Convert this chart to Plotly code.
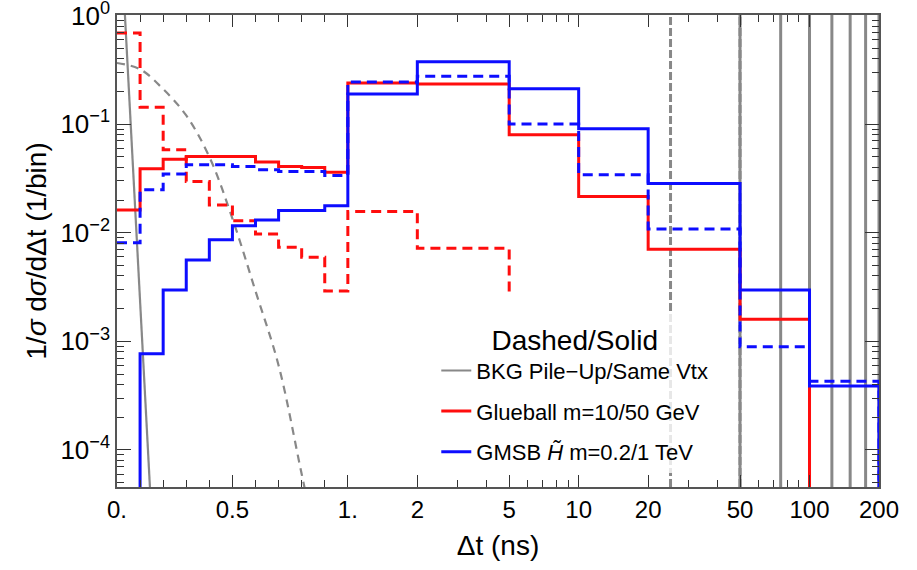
import numpy as np
import plotly.graph_objects as go

# ---------------- data ----------------
# histogram bin edges in ns
edges = [0.0, 0.1, 0.2, 0.3, 0.4, 0.5, 0.6, 0.7, 0.8, 0.9, 1.0, 2, 5, 10, 20, 50, 100, 200]

# Glueball m=10 GeV (dashed red) – bins up to 5 ns, then the line stops
glue10_edges = [0.0, 0.1, 0.2, 0.3, 0.4, 0.5, 0.6, 0.7, 0.8, 0.9, 1.0, 2, 5]
glue10_vals = [0.69, 0.143, 0.058, 0.0296, 0.018, 0.0129, 0.00975, 0.00735, 0.00594, 0.0029, 0.0157, 0.0072]
glue10_end = 0.0028

# Glueball m=50 GeV (solid red)
glue50_vals = [0.0162, 0.0387, 0.0475, 0.0503, 0.0503, 0.0503, 0.0447, 0.0407, 0.0398, 0.0361,
               0.239, 0.234, 0.0797, 0.0215, 0.00705, 0.0016, 0.0]
glue50_end = 0.0

# GMSB Higgsino m=0.2 TeV (dashed blue)
gmsb02_vals = [0.0081, 0.0248, 0.0348, 0.0422, 0.0422, 0.0407, 0.0379, 0.0366, 0.0366, 0.0336,
               0.244, 0.275, 0.100, 0.0341, 0.0108, 0.00089, 0.00043]
gmsb02_end = 0.0

# GMSB Higgsino m=1 TeV (solid blue)
gmsb1_vals = [0.0, 0.00077, 0.00297, 0.00561, 0.0086, 0.0116, 0.0131, 0.016, 0.016, 0.0177,
              0.189, 0.375, 0.211, 0.0905, 0.0284, 0.00297, 0.000387]
gmsb1_end = 0.0

# Background, same vertex (solid gray)
bkg_same_t = [0.03, 0.06, 0.09, 0.12, 0.15]
bkg_same_y = [1.5, 0.095, 0.006, 0.00037, 0.000023]

# Background, pile-up (dashed gray)
bkg_pu_t = [0.0, 0.1, 0.2, 0.3, 0.4, 0.5, 0.6, 0.7, 0.8, 0.9]
bkg_pu_y = [0.365, 0.32, 0.21, 0.12, 0.05, 0.0135, 0.0029, 0.0006, 0.00006, 0.000006]

# bunch-crossing spikes (ns)
spikes_dashed = [25, 50]
spikes_solid = [50, 75, 100, 125, 150, 175, 200]

# axis ticks
xtick_vals = [0, 0.5, 1, 2, 5, 10, 20, 50, 100, 200]
xtick_text = ["0.", "0.5", "1.", "2", "5", "10", "20", "50", "100", "200"]
xminor_vals = [0.1, 0.2, 0.3, 0.4, 0.6, 0.7, 0.8, 0.9, 3, 4, 6, 7, 8, 9, 30, 40, 60, 70, 80, 90]
ytick_vals = [1, 0.1, 0.01, 0.001, 0.0001]
ytick_text = ["10<sup>0</sup>", "10<sup>−1</sup>", "10<sup>−2</sup>", "10<sup>−3</sup>", "10<sup>−4</sup>"]
ymin = 4.56e-5
ymax = 1.01

# ---------------- axis transform: linear 0..1 ns, log above 1 ns ----------------
def u(t):
    t = np.asarray(t, dtype=float)
    return np.where(t <= 1, t, 1 + np.log10(np.maximum(t, 1e-12)))

TINY = 1e-9
def floor0(v):
    v = np.asarray(v, dtype=float)
    return np.where(v > 0, v, TINY)

GRAY = "#888888"
RED = "#ff0d0d"
BLUE = "#0d0dff"
DASH = "10px,6px"
W = 3

fig = go.Figure()

# gray background curves
fig.add_trace(go.Scatter(x=u(bkg_pu_t), y=bkg_pu_y, mode="lines", line=dict(color=GRAY, width=2.2, dash="8px,6px", shape="spline"),
                         showlegend=False, hoverinfo="skip"))
fig.add_trace(go.Scatter(x=u(bkg_same_t), y=bkg_same_y, mode="lines", line=dict(color=GRAY, width=2.2),
                         name="BKG Pile−Up/Same Vtx", legendrank=1, legendgroup="a"))

sx, sy = [], []
for s in spikes_dashed:
    sx += [float(u(s)), float(u(s)), None]
    sy += [TINY, 10, None]
fig.add_trace(go.Scatter(x=sx, y=sy, mode="lines", line=dict(color=GRAY, width=3, dash="8px,3px"), showlegend=False, hoverinfo="skip"))
sx, sy = [], []
for s in spikes_solid:
    sx += [float(u(s)), float(u(s)), None]
    sy += [TINY, 10, None]
fig.add_trace(go.Scatter(x=sx, y=sy, mode="lines", line=dict(color=GRAY, width=3), showlegend=False, hoverinfo="skip"))

def step(edges_, vals, end):
    x = u(edges_)
    y = floor0(list(vals) + [end])
    return x, y

x, y = step(glue10_edges, glue10_vals, glue10_end)
fig.add_trace(go.Scatter(x=x, y=y, mode="lines", line=dict(color=RED, width=W, dash=DASH, shape="hv"), showlegend=False))
x, y = step(edges, glue50_vals, glue50_end)
fig.add_trace(go.Scatter(x=x, y=y, mode="lines", line=dict(color=RED, width=W, shape="hv"),
                         name="Glueball m=10/50 GeV", legendrank=2, legendgroup="b"))
x, y = step(edges, gmsb02_vals, gmsb02_end)
fig.add_trace(go.Scatter(x=x, y=y, mode="lines", line=dict(color=BLUE, width=W, dash=DASH, shape="hv"), showlegend=False))
x, y = step(edges, gmsb1_vals, gmsb1_end)
fig.add_trace(go.Scatter(x=x, y=y, mode="lines", line=dict(color=BLUE, width=W, shape="hv"),
                         name="GMSB <i>H̃</i> m=0.2/1 TeV", legendrank=3, legendgroup="c"))

FRAME = "#555555"
fig.update_layout(
    width=917, height=570,
    margin=dict(l=117, r=38, t=15, b=83, autoexpand=False),
    paper_bgcolor="white", plot_bgcolor="white",
    font=dict(family="Liberation Sans, Arial, sans-serif", size=24, color="black"),
    legend=dict(x=0.419, y=0.368, xanchor="left", yanchor="top",
                bgcolor="rgba(255,255,255,0.8)", borderwidth=0,
                font=dict(size=22), tracegroupgap=9,
                title=dict(text="Dashed/Solid", side="top center", font=dict(size=28))),
    xaxis=dict(range=[0, float(u(200))], tickmode="array", tickvals=u(xtick_vals), ticktext=xtick_text,
               ticks="inside", ticklen=12, tickwidth=1.3, tickcolor="#333333", automargin=False,
               showline=True, linecolor=FRAME, linewidth=1.5, mirror="allticks",
               showgrid=False, zeroline=False, tickfont=dict(size=24),
               minor=dict(tickmode="array", tickvals=u(xminor_vals), ticks="inside", ticklen=7,
                          tickwidth=1.3, tickcolor="#333333", showgrid=False),
               title=dict(text="Δt (ns)", font=dict(size=28), standoff=14)),
    yaxis=dict(type="log", range=[np.log10(ymin), np.log10(ymax)], tickmode="array", tickvals=ytick_vals, ticktext=ytick_text,
               ticks="inside", ticklen=14, tickwidth=1.3, tickcolor="#333333", automargin=False,
               showline=True, linecolor=FRAME, linewidth=1.5, mirror="allticks",
               showgrid=False, zeroline=False, tickfont=dict(size=26), ticklabeloverflow="allow",
               minor=dict(tickmode="array",
                          tickvals=[m * 10.0 ** e for e in range(-5, 0) for m in range(2, 10)],
                          ticks="inside", ticklen=7, tickwidth=1.3, tickcolor="#333333", showgrid=False),
               title=dict(text="1/<i>σ</i> d<i>σ</i>/dΔt (1/bin)", font=dict(size=28), standoff=6)),
)

fig.write_html("out.html")
